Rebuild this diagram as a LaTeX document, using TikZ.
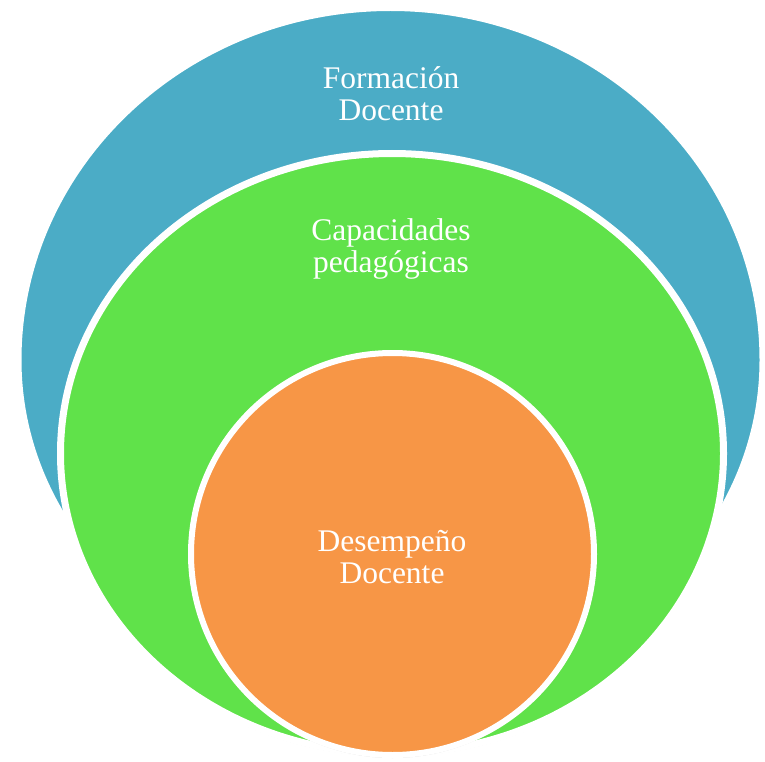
\documentclass[tikz,border=0pt]{standalone}
\usepackage{fontspec}
\setmainfont{Liberation Serif}
\usetikzlibrary{positioning,shapes,shadows}
\definecolor{formblue}{HTML}{4BACC6}
\definecolor{capgreen}{HTML}{60E24A}
\definecolor{desorange}{HTML}{F79646}
\begin{document}
\begin{tikzpicture}[x=1pt,y=-1pt,ring/.style={draw=white, drop shadow={opacity=0.28, shadow xshift=0pt, shadow yshift=-3pt}},circ/.style={ring, shape=ellipse, inner sep=0pt},lbl/.style={text=white, align=center, inner sep=0pt, font=\fontsize{31.5}{32}\selectfont}]
\useasboundingbox (0,0) rectangle (765,762);
% outer one: upper half taller than the lower half
\path[ring, fill=formblue, line width=6pt] (390.5,8) .. controls (185,8) and (18.5,165.6) .. (18.5,360) .. controls (18.5,542.3) and (185,690) .. (390.5,690) .. controls (596,690) and (762.5,542.3) .. (762.5,360) .. controls (762.5,165.6) and (596,8) .. cycle;
\node[circ, fill=capgreen, line width=7pt, minimum width=663pt, minimum height=600pt] (capacidades) at (392,453.5) {};
\node[circ, fill=desorange, line width=6pt, minimum width=403pt, minimum height=402pt] (desempeno) at (392.5,554) {};
% labels
\node[lbl] (tformacion) at (391,94) {Formación\\Docente};
\node[lbl] (tcapacidades) at (391,249) {Capacidades\\pedagógicas};
\node[lbl] (tdesempeno) at (392,557) {Desempeño\\Docente};
\end{tikzpicture}
\end{document}
